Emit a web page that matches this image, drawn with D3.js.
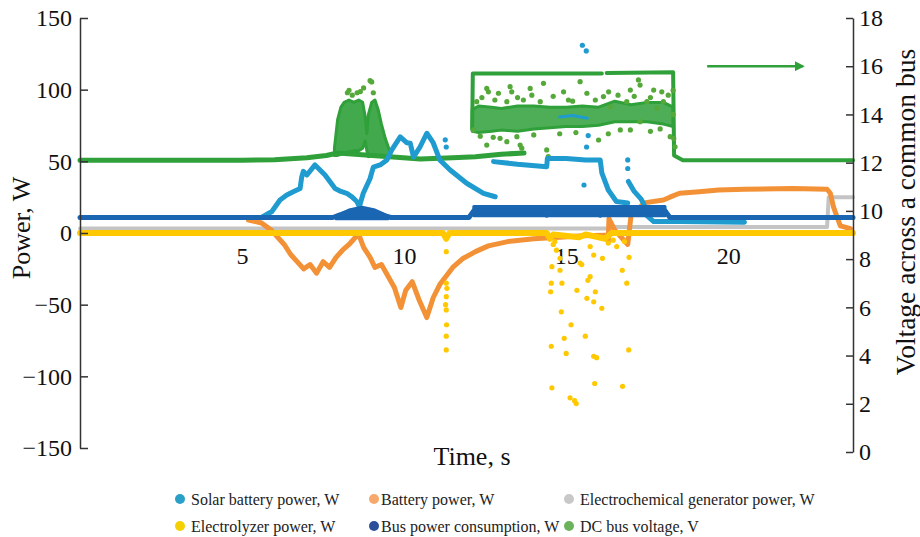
<!DOCTYPE html>
<html>
<head>
<meta charset="utf-8">
<title>Power and DC bus voltage</title>
<script src="https://cdnjs.cloudflare.com/ajax/libs/d3/7.8.5/d3.min.js"></script>
<style>
  body { margin: 0; background: #fff; }
  svg, svg text { font-family: "Liberation Serif", "DejaVu Serif", serif; }
</style>
</head>
<body>
<svg width="920" height="537"></svg>
<script>
// all values: [time s, power W] or [time s, voltage V]
const solarRise = [[5.6,10.8],[5.92,15],[6.17,23],[6.38,26.5],[6.58,28.8],[6.79,31],[6.84,39],[6.89,43],[7.0,40.5],[7.25,47.5],[7.56,40.5],[7.87,31],[8.05,29],[8.23,27.7],[8.4,25],[8.54,22],[8.62,18.4],[8.74,27.7],[8.95,38],[9.05,46],[9.26,47.5],[9.47,51],[9.62,58],[9.88,67],[10.08,63],[10.19,62.6],[10.29,53],[10.49,60],[10.7,69.6],[10.9,62.8],[11.1,51],[11.42,44],[11.93,34.7],[12.45,27.7],[12.81,25.3]];
const solarStep = [[12.76,49.8],[13.5,48],[14.4,46.3],[14.42,52],[15.0,52],[15.6,51],[16.05,51],[16.1,42],[16.3,30],[16.55,22],[16.9,21]];
const solarTail = [[16.92,36],[17.1,29],[17.3,24],[17.4,20],[17.5,12],[17.7,8],[18.5,8],[20.5,7.5]];
const solarHump = [[14.8,81],[15.2,82],[15.65,80]];
const solarDots = [[15.5,131],[15.62,127],[15.68,68],[15.63,60],[15.55,33.5],[16.9,51],[16.9,45],[11.27,65],[11.3,60]];

const battery = [[5.2,9],[5.6,7],[5.9,2],[6.1,-3],[6.3,-8],[6.5,-15],[6.7,-20],[6.9,-25],[7.1,-22],[7.3,-28],[7.5,-20],[7.7,-24],[7.9,-17],[8.1,-12],[8.3,-8],[8.5,-3],[8.6,-1],[8.75,-10],[8.95,-17],[9.1,-24],[9.3,-22],[9.5,-30],[9.7,-38],[9.9,-52],[10.05,-40],[10.25,-34],[10.45,-46],[10.7,-59],[10.9,-45],[11.1,-36],[11.3,-30],[11.5,-24],[11.8,-18],[12.2,-13],[12.6,-9],[13.2,-6],[14.0,-4],[14.8,-3],[15.5,-2],[16.2,-1.5],[16.3,-6],[16.32,10],[16.5,2],[16.9,-8],[17.0,12],[17.2,16],[17.4,21],[18.0,23],[18.2,25],[18.5,27.7],[19.1,28.8],[19.7,30],[20.5,30.5],[22.0,31],[23.05,30.5],[23.15,27.7],[23.25,18],[23.36,11],[23.46,5],[23.77,3]];

const generator = [[0,3.2],[16.3,3.2],[16.5,4.2],[23.05,4.2],[23.1,25],[23.85,25]];

const electrolyzer = [[0,0],[11.2,0],[11.3,-4],[11.4,0],[14.4,0],[14.5,-4],[14.6,-1],[15.4,-3],[15.6,-1],[16.2,-4],[16.4,0],[23.85,0]];
const electrolyzerDots = [[11.3,-13],[11.3,-35],[11.32,-38.6],[11.3,-44.4],[11.28,-50],[11.3,-53.7],[11.31,-64],[11.3,-72],[11.3,-81.6],
  [14.56,-23.5],[14.54,-35],[14.52,-41],[14.81,-26],[14.87,-35],[14.85,-55],[14.54,-79],[14.56,-108],[15.12,-115],[15.31,-119],[15.26,-117],
  [14.94,-73.5],[15.0,-84],[15.15,-64],[15.33,-40],[15.43,-21],[15.48,-22],[15.67,-33],[15.74,-30.5],[15.64,-45.6],[15.9,-41],[15.85,-48],
  [16.1,-52.5],[15.59,-72],[15.85,-86],[15.94,-87],[15.88,-105],[16.74,-107],[16.93,-81.6],[16.87,-35],[16.73,-26],[16.94,-17],[16.12,-17.7],
  [15.85,-15.4],[15.74,-9.5],[16.3,-7],[16.56,-9.5],[14.81,-17.7],[14.7,-12],[14.6,-8],[14.65,-6],[16.45,-5],[16.8,-6]];

const busPower = [[0,10.8],[7.8,10.8],[8.0,12.5],[8.3,14.5],[8.7,16],[9.1,14.5],[9.4,12],[9.6,10.8],[12.0,10.8],[12.15,15.5],[14.35,15.5],[14.4,12.5],[14.45,15.5],[16.0,15.5],[16.05,12.5],[16.1,15.5],[18.05,15.5],[18.2,10.8],[23.85,10.8]];
// [time, low, high] of the noisy spread
const busSpread = [[7.9,10,12],[8.3,10,16],[8.7,10,18],[9.1,10,16],[9.5,10,12]];
const busPlateau = [[12.15,12,18.5],[14.3,12,18.5],[14.5,12,18.5],[16.0,12,18.5],[18.05,12,18.5]];

const voltLow = [[0,12.1],[5,12.1],[6,12.12],[7,12.2],[7.6,12.3],[7.95,12.4],[9.55,12.25],[10.5,12.15],[11.5,12.2],[12.2,12.25],[13.0,12.35],[13.7,12.4]];
const voltHigh = [[12.1,13.4],[12.12,15.7],[16.1,15.7]];
const voltEnd = [[16.25,15.72],[18.3,15.75],[18.33,12.3],[18.6,12.1],[23.85,12.1]];
const voltBurst = [[7.85,12.3,12.6],[7.95,12.3,13.8],[8.05,12.35,14.3],[8.15,12.4,14.5],[8.3,12.45,14.6],[8.45,12.5,14.5],[8.6,12.5,14.6],[8.72,12.6,14.5],[8.8,12.9,13.9],[8.85,12.5,13.2],[8.9,12.25,14.0],[9.0,12.3,14.5],[9.1,12.3,14.6],[9.2,12.3,14.2],[9.3,12.3,13.6],[9.42,12.25,13.0],[9.55,12.2,12.5]];
const voltCloud = [[12.1,13.3,14.2],[12.3,13.25,14.35],[12.7,13.3,14.3],[13.0,13.35,14.25],[13.5,13.3,14.35],[14.0,13.4,14.35],[14.5,13.45,14.3],[15.0,13.5,14.3],[15.5,13.5,14.35],[16.0,13.55,14.3],[16.5,13.7,14.55],[17.0,13.7,14.4],[17.5,13.7,14.5],[18.0,13.6,14.5],[18.3,13.5,14.3]];
const voltDots = [[8.25,14.9],[8.3,15.0],[8.55,14.9],[8.75,15.1],[8.95,15.4],[9.0,15.35],[9.05,14.9],[8.4,14.8],[8.65,14.95],
  [12.55,15.08],[12.6,14.94],[12.91,14.88],[13.27,15.15],[13.32,14.94],[13.89,15.08],[13.94,14.8],[14.3,15.29],[14.92,14.94],[15.43,15.36],
  [15.64,14.88],[16.15,14.74],[16.31,14.94],[16.98,15.01],[17.23,15.43],[17.28,15.22],[17.7,15.01],[17.95,14.94],[18.0,14.53],[12.24,14.53],
  [13.17,14.53],[13.68,14.6],[14.2,14.53],[15.07,14.6],[16.36,14.32],[16.87,14.53],[17.49,14.53],[17.8,14.26],
  [12.4,14.7],[12.8,14.6],[13.5,14.7],[14.6,14.75],[15.2,14.55],[15.9,14.6],[16.6,14.8],[17.1,14.75],[17.6,14.7],[18.15,14.8],
  [12.14,13.36],[12.55,12.73],[12.96,13.01],[13.17,12.87],[13.48,13.08],[13.58,12.73],[13.63,12.6],[14.4,12.53],[14.45,12.25],
  [16.0,12.94],[16.67,13.36],[16.98,13.36],[17.28,13.7],[18.21,13.08],[18.36,12.66],[18.3,15.0],[18.3,14.0],[18.32,13.0],
  [12.35,13.1],[12.75,13.05],[14.0,13.15],[14.8,13.2],[15.3,13.25],[16.3,13.2],[17.6,13.3],[17.9,13.4]];

const powerTicks = [-150, -100, -50, 0, 50, 100, 150];
const voltTicks = [0, 2, 4, 6, 8, 10, 12, 14, 16, 18];
const timeTicks = [5, 10, 15, 20];

const legendItems = [
  {name: "Solar battery power, W", color: "#2aa0c8"},
  {name: "Battery power, W", color: "#f6a96b"},
  {name: "Electrochemical generator power, W", color: "#c8c8c8"},
  {name: "Electrolyzer power, W", color: "#f5d000"},
  {name: "Bus power consumption, W", color: "#2b4f98"},
  {name: "DC bus voltage, V", color: "#6bb35a"}
];

const C = {solar: "#1f9bd0", battery: "#f39136", grey: "#c4c4c4", yellow: "#ffc800", bus: "#1a66b2", green: "#2fa03a", greenDot: "#55a83a"};
const serif = "Liberation Serif, DejaVu Serif, serif";

const svg = d3.select("svg");
const x = d3.scaleLinear().domain([0, 23.85]).range([80, 853]);
const yP = d3.scaleLinear().domain([-150, 150]).range([448, 18]);
const yV = d3.scaleLinear().domain([0, 18]).range([452, 18]);

// time tick labels sit under the zero line, drawn below the data
const xAxis = svg.append("g")
  .attr("transform", "translate(0," + yP(0) + ")")
  .call(d3.axisBottom(x).tickValues(timeTicks).tickSize(0).tickPadding(14));
xAxis.select(".domain").remove();
xAxis.attr("font-family", serif).attr("font-size", 24);
xAxis.selectAll("text").attr("fill", "#111");

const plot = svg.append("g");

function drawLine(data, yScale, color, w) {
  plot.append("path").datum(data)
    .attr("fill", "none").attr("stroke", color).attr("stroke-width", w)
    .attr("stroke-linejoin", "round").attr("stroke-linecap", "round")
    .attr("d", d3.line().x(d => x(d[0])).y(d => yScale(d[1])));
}
function drawBand(data, yScale, color, op) {
  plot.append("path").datum(data)
    .attr("fill", color).attr("fill-opacity", op)
    .attr("stroke", color).attr("stroke-width", 3).attr("stroke-linejoin", "round")
    .attr("d", d3.area().x(d => x(d[0])).y0(d => yScale(d[1])).y1(d => yScale(d[2])));
}
function drawDots(data, yScale, color, r) {
  plot.append("g").selectAll("circle").data(data).join("circle")
    .attr("cx", d => x(d[0])).attr("cy", d => yScale(d[1])).attr("r", r)
    .attr("fill", color);
}

// voltage (right axis)
drawLine(voltLow, yV, C.green, 5);
drawBand(voltBurst, yV, C.green, 0.9);
drawBand(voltCloud, yV, C.green, 0.85);
drawLine(voltHigh, yV, C.green, 4);
drawLine(voltEnd, yV, C.green, 4);
drawDots(voltDots, yV, C.greenDot, 2.6);

// powers (left axis)
drawLine(generator, yP, C.grey, 4);
drawLine(battery, yP, C.battery, 5);
drawLine(solarRise, yP, C.solar, 5);
drawLine(solarStep, yP, C.solar, 5);
drawLine(solarTail, yP, C.solar, 5);
drawLine(solarHump, yP, C.solar, 3);
drawBand(busSpread, yP, C.bus, 1);
drawBand(busPlateau, yP, C.bus, 1);
drawLine(busPower, yP, C.bus, 5);
drawLine(electrolyzer, yP, C.yellow, 6);
drawDots(electrolyzerDots, yP, C.yellow, 2.6);
drawDots(solarDots, yP, C.solar, 2.6);

// axes
const left = svg.append("g").attr("transform", "translate(80,0)")
  .call(d3.axisLeft(yP).tickValues(powerTicks).tickSize(-8).tickSizeOuter(0).tickPadding(8));
const right = svg.append("g").attr("transform", "translate(853,0)")
  .call(d3.axisRight(yV).tickValues(voltTicks).tickSize(-7).tickSizeOuter(0).tickPadding(6));
[left, right].forEach(g => {
  g.attr("font-family", serif).attr("font-size", 24);
  g.select(".domain").attr("stroke", "#333").attr("stroke-width", 1.5);
  g.selectAll(".tick line").attr("stroke", "#333").attr("stroke-width", 1.5);
  g.selectAll("text").attr("fill", "#111");
});

// axis titles
svg.append("text").attr("transform", "translate(30,228) rotate(-90)")
  .attr("text-anchor", "middle").attr("font-size", 26).attr("fill", "#111").text("Power, W");
svg.append("text").attr("x", 472).attr("y", 465)
  .attr("text-anchor", "middle").attr("font-size", 26).attr("fill", "#111").text("Time, s");
svg.append("text").attr("transform", "translate(915,212) rotate(-90)")
  .attr("text-anchor", "middle").attr("font-size", 27.5).attr("fill", "#111").text("Voltage across a common bus");

// arrow pointing to the voltage axis
svg.append("defs").append("marker").attr("id", "head")
  .attr("viewBox", "0 0 10 10").attr("refX", 8).attr("refY", 5)
  .attr("markerWidth", 4).attr("markerHeight", 4).attr("orient", "auto")
  .append("path").attr("d", "M0,0L10,5L0,10z").attr("fill", C.green);
svg.append("line")
  .attr("x1", x(19.35)).attr("x2", x(22.3)).attr("y1", yV(16)).attr("y2", yV(16))
  .attr("stroke", C.green).attr("stroke-width", 2.5).attr("marker-end", "url(#head)");

// legend
const colX = [180, 374, 569];
const rowY = [499, 526];
const leg = svg.append("g").selectAll("g").data(legendItems).join("g")
  .attr("transform", (d, i) => "translate(" + colX[i % 3] + "," + rowY[Math.floor(i / 3)] + ")");
leg.append("circle").attr("r", 5).attr("fill", d => d.color);
leg.append("text").attr("x", (d, i) => i % 3 == 1 ? 7 : 11).attr("y", 5.5)
  .attr("font-size", 16).attr("fill", "#222").text(d => d.name);
</script>
</body>
</html>
